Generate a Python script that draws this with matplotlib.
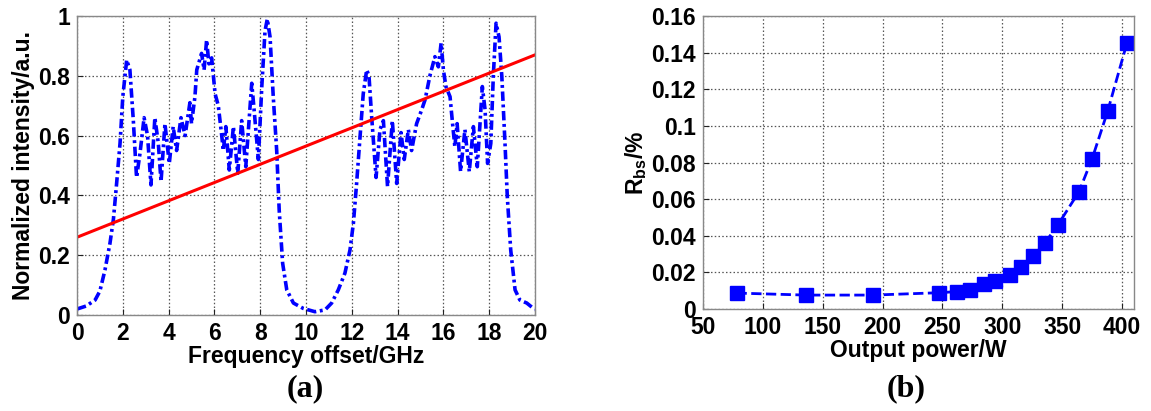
import matplotlib
matplotlib.use("Agg")
import matplotlib.pyplot as plt

plt.rcParams['font.family'] = ['Liberation Sans', 'DejaVu Sans']
plt.rcParams['font.weight'] = 'bold'
plt.rcParams['mathtext.fontset'] = 'custom'
plt.rcParams['mathtext.rm'] = 'Liberation Sans:bold'
plt.rcParams['mathtext.bf'] = 'Liberation Sans:bold'
plt.rcParams['mathtext.it'] = 'Liberation Sans:bold'

# ---- Panel (a): normalized spectrum ----
freq_ghz = [0.0, 0.4, 0.79, 1.0, 1.22, 1.44, 1.59, 1.73, 1.88, 2.0, 2.17, 2.31, 2.46, 2.6,
            2.75, 2.93, 3.08, 3.23, 3.4, 3.55, 3.67, 3.84, 4.03, 4.2, 4.35, 4.54,
            4.72, 4.93, 5.0, 5.15, 5.23, 5.44, 5.55, 5.66, 5.76, 5.88, 6.03, 6.17,
            6.32, 6.39, 6.5, 6.65, 6.83, 7.02, 7.19, 7.37, 7.63, 7.73, 7.92, 8.07,
            8.21, 8.31, 8.43, 8.57, 8.72, 8.83, 8.98, 9.16, 9.45, 9.88, 10.39,
            10.83, 11.12, 11.41, 11.7, 11.92, 12.07, 12.21, 12.36, 12.5, 12.65,
            12.75, 12.87, 13.06, 13.23, 13.38, 13.56, 13.77, 13.96, 14.15, 14.29,
            14.47, 14.61, 14.83, 15.05, 15.2, 15.41, 15.63, 15.78, 15.9, 16.0,
            16.11, 16.29, 16.4, 16.5, 16.6, 16.75, 16.94, 17.13, 17.31, 17.48,
            17.7, 17.82, 17.93, 18.07, 18.18, 18.3, 18.43, 18.55, 18.69, 18.79,
            18.94, 19.13, 19.34, 19.64, 19.93, 20.0]
intensity = [0.02, 0.03, 0.05, 0.08, 0.15, 0.24, 0.32, 0.44, 0.575, 0.73, 0.853, 0.82, 0.65, 0.46,
             0.54, 0.66, 0.60, 0.435, 0.66, 0.575, 0.446, 0.64, 0.507, 0.63, 0.55, 0.66,
             0.60, 0.71, 0.64, 0.73, 0.82, 0.875, 0.82, 0.92, 0.84, 0.86, 0.74, 0.70,
             0.60, 0.55, 0.63, 0.485, 0.63, 0.474, 0.65, 0.496, 0.775, 0.69, 0.52, 0.764,
             0.95, 0.99, 0.93, 0.73, 0.55, 0.35, 0.173, 0.084, 0.04, 0.022, 0.011,
             0.017, 0.04, 0.084, 0.14, 0.217, 0.307, 0.44, 0.596, 0.74, 0.82,
             0.80, 0.66, 0.46, 0.62, 0.65, 0.43, 0.65, 0.44, 0.61, 0.52,
             0.62, 0.55, 0.64, 0.686, 0.72, 0.80, 0.864, 0.83, 0.909, 0.82,
             0.764, 0.73, 0.64, 0.563, 0.64, 0.48, 0.62, 0.48, 0.63, 0.496,
             0.764, 0.686, 0.507, 0.574, 0.80, 0.976, 0.93, 0.80, 0.574, 0.396,
             0.217, 0.084, 0.05, 0.04, 0.022, 0.02]
line_x = [0, 20]
line_y = [0.26, 0.87]

# ---- Panel (b): backscatter ratio ----
power_w = [78, 136, 192, 247.5, 262, 273, 285, 294, 306.5, 316, 326, 335.5, 346.5,
           364, 375, 388, 404]
rbs = [0.0087, 0.0076, 0.0076, 0.0089, 0.0095, 0.0104, 0.0135, 0.0155, 0.0186,
       0.023, 0.029, 0.036, 0.046, 0.064, 0.082, 0.108, 0.145]

a_xticks = list(range(0, 21, 2))
a_yticks = [0, 0.2, 0.4, 0.6, 0.8, 1.0]
a_ylabels = ['0', '0.2', '0.4', '0.6', '0.8', '1']
b_xticks = list(range(50, 401, 50))
b_yticks = [0, 0.02, 0.04, 0.06, 0.08, 0.10, 0.12, 0.14, 0.16]
b_ylabels = ['0', '0.02', '0.04', '0.06', '0.08', '0.1', '0.12', '0.14', '0.16']

W, H = 1151, 411
fig = plt.figure(figsize=(W / 100, H / 100), dpi=100)
ax1 = fig.add_axes([77 / W, 1 - 315 / H, (535 - 77) / W, (315 - 16) / H])
ax2 = fig.add_axes([703 / W, 1 - 309 / H, (1134 - 703) / W, (309 - 16) / H])

fs = 16.5
blue = '#0000ff'

ax1.plot(freq_ghz, intensity, linestyle=(0, (2.6, 1.0, 0.8, 1.0)), color=blue, linewidth=2.6)
ax1.plot(line_x, line_y, color='#ff0000', linewidth=2.2)
ax1.set_xlim(0, 20)
ax1.set_ylim(0, 1)
ax1.set_xticks(a_xticks)
ax1.set_yticks(a_yticks)
ax1.set_yticklabels(a_ylabels)
ax1.set_xlabel('Frequency offset/GHz', fontsize=fs, fontweight='bold', labelpad=0)
ax1.set_ylabel('Normalized intensity/a.u.', fontsize=fs, fontweight='bold', labelpad=2)

ax2.plot(power_w, rbs, linestyle='--', color=blue, linewidth=2.0,
         marker='s', markersize=9.5, markerfacecolor=blue, markeredgecolor=blue)
ax2.set_xlim(50, 410)
ax2.set_ylim(0, 0.16)
ax2.set_xticks(b_xticks)
ax2.set_yticks(b_yticks)
ax2.set_yticklabels(b_ylabels)
ax2.set_xlabel('Output power/W', fontsize=fs, fontweight='bold', labelpad=0)
ax2.set_ylabel(r'$\mathbf{R_{bs}}$/%', fontsize=fs, fontweight='bold', labelpad=2)

for ax in (ax1, ax2):
    ax.grid(True, linestyle=(0, (1.2, 1.8)), color='#555555', linewidth=0.9)
    ax.tick_params(direction='in', length=4, width=0.8, labelsize=fs, pad=5,
                   colors='#222222', labelcolor='black')
    for lab in ax.get_xticklabels() + ax.get_yticklabels():
        lab.set_fontweight('bold')
    for sp in ax.spines.values():
        sp.set_color('#888888')
        sp.set_linewidth(1.0)

fig.text(305 / W, 1 - 389 / H, '(a)', ha='center', va='center', fontsize=23,
         fontweight='bold', family=['Liberation Serif', 'DejaVu Serif'])
fig.text(906 / W, 1 - 389 / H, '(b)', ha='center', va='center', fontsize=23,
         fontweight='bold', family=['Liberation Serif', 'DejaVu Serif'])

fig.savefig('out.png', dpi=100)
